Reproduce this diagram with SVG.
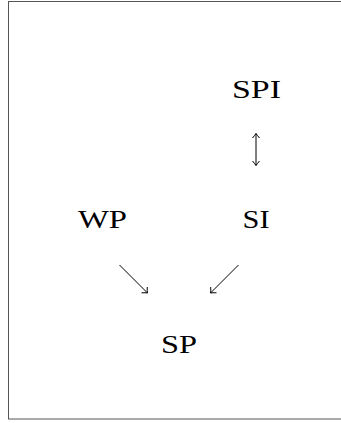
<svg xmlns="http://www.w3.org/2000/svg" width="341" height="423" viewBox="0 0 341 423">
<style>
.lbl{font-family:"Liberation Serif","Times New Roman",serif;font-size:26px;fill:#000;text-anchor:middle}
.ed{stroke:#000;stroke-width:1;fill:none}
</style>
<rect x="0" y="0" width="341" height="423" fill="#fff"/>
<rect x="8.5" y="1.5" width="340" height="417.5" fill="none" stroke="#555" stroke-width="1"/>
<g id="SPI"><text class="lbl" x="256.5" y="97.5" textLength="49" lengthAdjust="spacingAndGlyphs">SPI</text></g>
<g id="WP"><text class="lbl" x="102.5" y="227.5" textLength="49" lengthAdjust="spacingAndGlyphs">WP</text></g>
<g id="SI"><text class="lbl" x="256" y="227.5" textLength="27" lengthAdjust="spacingAndGlyphs">SI</text></g>
<g id="SP"><text class="lbl" x="179" y="352.5" textLength="36" lengthAdjust="spacingAndGlyphs">SP</text></g>
<g id="connectors">
<path class="ed" d="M256 133.5V165.5"/>
<path class="ed" d="M252.5 138Q255 135 256 133.5Q257 135 259.5 138"/>
<path class="ed" d="M252.5 161Q255 164 256 165.5Q257 164 259.5 161"/>
<path class="ed" d="M119.5 265L147.5 293"/>
<path class="ed" d="M147.3 287Q147 291 147.5 293Q145.5 292.6 141.5 292.8"/>
<path class="ed" d="M238.5 265L210.5 293"/>
<path class="ed" d="M210.7 287Q211 291 210.5 293Q212.5 292.6 216.5 292.8"/>
</g>
</svg>
